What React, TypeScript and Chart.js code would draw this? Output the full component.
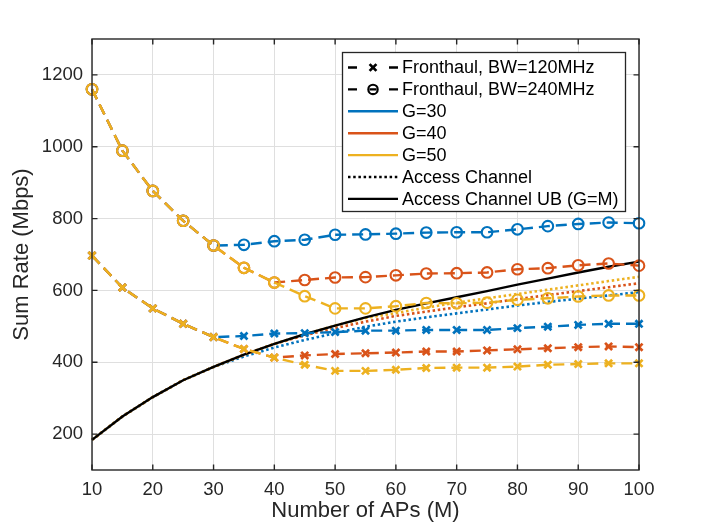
import { useEffect, useRef } from 'react';
import { Chart, registerables } from 'chart.js';

Chart.register(...registerables);

// ---------- data ----------
const numAPs = [10, 15, 20, 25, 30, 35, 40, 45, 50, 55, 60, 65, 70, 75, 80, 85, 90, 95, 100];
const xTickValues = [10, 20, 30, 40, 50, 60, 70, 80, 90, 100];
const yTickValues = [200, 400, 600, 800, 1000, 1200];

// Access channel upper bound (G = M)
const accessUB = [184, 249, 303, 350, 387, 421, 451, 478, 502, 525, 546, 564, 581, 598, 616, 633, 650, 666, 680];
// Access channel (dotted)
const accessG30 = [184, 249, 303, 350, 387, 416, 441, 462, 481, 499, 513, 525, 536, 547, 558, 568, 577, 586, 595];
const accessG40 = [184, 249, 303, 350, 387, 421, 451, 475, 495, 513, 529, 541, 553, 564, 576, 587, 598, 609, 620];
const accessG50 = [184, 249, 303, 350, 387, 421, 451, 478, 502, 523, 537, 552, 566, 578, 590, 602, 614, 626, 638];
// Fronthaul, BW = 120 MHz (x markers)
const fh120G30 = [697, 608, 550, 507, 470, 473, 480, 481, 484, 488, 488, 490, 490, 490, 495, 499, 504, 507, 507];
const fh120G40 = [697, 608, 550, 507, 470, 437, 413, 419, 423, 425, 427, 430, 430, 433, 436, 439, 442, 444, 442];
const fh120G50 = [697, 608, 550, 507, 470, 437, 413, 393, 376, 376, 379, 384, 385, 385, 388, 393, 395, 397, 397];
// Fronthaul, BW = 240 MHz (circle markers)
const fh240G30 = [1160, 989, 877, 794, 725, 727, 737, 741, 755, 756, 758, 761, 762, 762, 770, 779, 785, 789, 787];
const fh240G40 = [1160, 989, 877, 794, 725, 663, 622, 629, 636, 637, 642, 647, 648, 650, 659, 662, 670, 675, 669];
const fh240G50 = [1160, 989, 877, 794, 725, 663, 622, 584, 550, 550, 556, 565, 564, 566, 574, 578, 583, 586, 586];

const legendLabels = [
  'Fronthaul, BW=120MHz',
  'Fronthaul, BW=240MHz',
  'G=30',
  'G=40',
  'G=50',
  'Access Channel',
  'Access Channel UB (G=M)',
];
const xTitle = 'Number of APs (M)';
const yTitle = 'Sum Rate (Mbps)';

// ---------- styles ----------
const BLUE = '#0072BD';
const ORANGE = '#D95319';
const YELLOW = '#EDB120';
const AXIS = '#262626';
const GRID = '#dfdfdf';
const FONT = "'Liberation Sans', Arial, Helvetica, sans-serif";
const DASH = [11, 6];
const DOT = [2.5, 2.7];

const pts = (vals: number[]) => numAPs.map((x, i) => ({ x, y: vals[i] }));

function dotted(vals: number[], color: string) {
  return {
    data: pts(vals), borderColor: color, borderWidth: 2.6, borderDash: DOT, borderCapStyle: 'butt',
    pointRadius: 0, fill: false, tension: 0, clip: false as const,
  };
}
function solid(vals: number[], color: string) {
  return {
    data: pts(vals), borderColor: color, borderWidth: 2.4,
    pointRadius: 0, fill: false, tension: 0, clip: false as const,
  };
}
function dashedCross(vals: number[], color: string) {
  return {
    data: pts(vals), borderColor: color, borderWidth: 2.4, borderDash: DASH,
    pointStyle: 'crossRot', pointRadius: 5, pointBorderWidth: 2.7,
    pointBorderColor: color, pointBackgroundColor: color,
    fill: false, tension: 0, clip: false as const,
  };
}
function dashedCircle(vals: number[], color: string) {
  return {
    data: pts(vals), borderColor: color, borderWidth: 2.4, borderDash: DASH,
    pointStyle: 'circle', pointRadius: 5.3, pointBorderWidth: 2.1,
    pointBorderColor: color, pointBackgroundColor: 'rgba(0,0,0,0)',
    fill: false, tension: 0, clip: false as const,
  };
}

const boxPlugin = {
  id: 'matlabBox',
  afterDatasetsDraw(chart: any) {
    const { ctx, chartArea: a, scales } = chart;
    const tl = 5.5;
    ctx.save();
    ctx.strokeStyle = AXIS;
    ctx.lineWidth = 1.4;
    ctx.beginPath();
    for (const v of xTickValues) {
      const px = scales.x.getPixelForValue(v);
      ctx.moveTo(px, a.bottom); ctx.lineTo(px, a.bottom - tl);
      ctx.moveTo(px, a.top); ctx.lineTo(px, a.top + tl);
    }
    for (const v of yTickValues) {
      const py = scales.y.getPixelForValue(v);
      ctx.moveTo(a.left, py); ctx.lineTo(a.left + tl, py);
      ctx.moveTo(a.right, py); ctx.lineTo(a.right - tl, py);
    }
    ctx.stroke();
    ctx.strokeRect(a.left, a.top, a.right - a.left, a.bottom - a.top);
    ctx.restore();
  },
};

const legendPlugin = {
  id: 'matlabLegend',
  afterDatasetsDraw(chart: any) {
    const { ctx, chartArea: a } = chart;
    const boxW = 283;
    const boxH = 159;
    const x0 = a.right - 14 - boxW;
    const y0 = a.top + 13;
    ctx.save();
    ctx.fillStyle = '#ffffff';
    ctx.fillRect(x0, y0, boxW, boxH);
    ctx.strokeStyle = AXIS;
    ctx.lineWidth = 1.3;
    ctx.strokeRect(x0 + 0.5, y0 + 0.5, boxW, boxH);

    const kinds = ['cross', 'circle', 'solid', 'solid', 'solid', 'dotted', 'solid'];
    const colors = ['#000', '#000', BLUE, ORANGE, YELLOW, '#000', '#000'];
    const sx0 = x0 + 6;
    const sx1 = x0 + 56;
    const mx = x0 + 31;
    legendLabels.forEach((label, i) => {
      const y = y0 + 15.5 + i * 21.9;
      ctx.strokeStyle = colors[i];
      ctx.lineWidth = 2.4;
      ctx.setLineDash([]);
      const k = kinds[i];
      if (k === 'cross' || k === 'circle') {
        ctx.beginPath();
        ctx.moveTo(sx0, y); ctx.lineTo(sx0 + 9, y);
        ctx.moveTo(sx1 - 9, y); ctx.lineTo(sx1, y);
        if (k === 'circle') { ctx.moveTo(mx - 3.5, y); ctx.lineTo(mx + 3.5, y); }
        ctx.stroke();
        if (k === 'cross') {
          const r = 3.4;
          ctx.lineWidth = 2.7;
          ctx.beginPath();
          ctx.moveTo(mx - r, y - r); ctx.lineTo(mx + r, y + r);
          ctx.moveTo(mx - r, y + r); ctx.lineTo(mx + r, y - r);
          ctx.stroke();
        } else {
          ctx.lineWidth = 2.1;
          ctx.beginPath();
          ctx.arc(mx, y, 4.7, 0, Math.PI * 2);
          ctx.stroke();
        }
      } else {
        if (k === 'dotted') { ctx.setLineDash(DOT); ctx.lineWidth = 2.6; }
        ctx.beginPath();
        ctx.moveTo(sx0, y); ctx.lineTo(sx1, y);
        ctx.stroke();
        ctx.setLineDash([]);
      }
      ctx.fillStyle = '#000';
      ctx.font = `18px ${FONT}`;
      ctx.textAlign = 'left';
      ctx.textBaseline = 'middle';
      ctx.fillText(label, x0 + 60, y + 1);
    });
    ctx.restore();
  },
};

export default function App() {
  const ref = useRef<HTMLCanvasElement | null>(null);

  useEffect(() => {
    document.body.style.margin = '0';
    const canvas = ref.current;
    if (!canvas) return;

    // bottom -> top painting order
    const layers: any[] = [
      dotted(accessG30, BLUE),
      dotted(accessG40, ORANGE),
      dotted(accessG50, YELLOW),
      solid(accessUB, '#000000'),
      dashedCross(fh120G30, BLUE),
      dashedCross(fh120G40, ORANGE),
      dashedCross(fh120G50, YELLOW),
      dashedCircle(fh240G30, BLUE),
      dashedCircle(fh240G40, ORANGE),
      dashedCircle(fh240G50, YELLOW),
    ];
    layers.forEach((d, i) => { d.order = layers.length - i; });

    const tickFont = { family: FONT, size: 18.5 };
    const titleFont = { family: FONT, size: 22 };

    const chart = new Chart(canvas, {
      type: 'line',
      data: { datasets: layers },
      options: {
        responsive: false,
        animation: false,
        events: [],
        layout: { padding: { left: 0, right: 67, top: 39, bottom: 0 } },
        plugins: { legend: { display: false }, tooltip: { enabled: false } },
        scales: {
          x: {
            type: 'linear',
            min: 10,
            max: 100,
            afterBuildTicks: (s: any) => { s.ticks = xTickValues.map((v) => ({ value: v })); },
            afterFit: (s: any) => { s.height = 60; },
            grid: { color: GRID, lineWidth: 1, drawTicks: false },
            border: { display: false },
            ticks: { padding: 9, font: tickFont, color: AXIS, maxRotation: 0, autoSkip: false, callback: (v: any) => String(v) },
            title: { display: true, text: xTitle, font: titleFont, color: AXIS, padding: { top: 0, bottom: 6 } },
          },
          y: {
            type: 'linear',
            min: 100,
            max: 1300,
            afterBuildTicks: (s: any) => { s.ticks = yTickValues.map((v) => ({ value: v })); },
            afterFit: (s: any) => { s.width = 92; },
            grid: { color: GRID, lineWidth: 1, drawTicks: false },
            border: { display: false },
            ticks: { padding: 9, font: tickFont, color: AXIS, autoSkip: false, callback: (v: any) => String(v) },
            title: { display: true, text: yTitle, font: titleFont, color: AXIS, padding: { top: 9, bottom: 0 } },
          },
        },
      },
      plugins: [boxPlugin, legendPlugin],
    } as any);

    return () => { chart.destroy(); };
  }, []);

  return (
    <div style={{ width: 706, height: 530, background: '#fff' }}>
      <canvas ref={ref} width={706} height={530} style={{ width: 706, height: 530, display: 'block' }} />
    </div>
  );
}
